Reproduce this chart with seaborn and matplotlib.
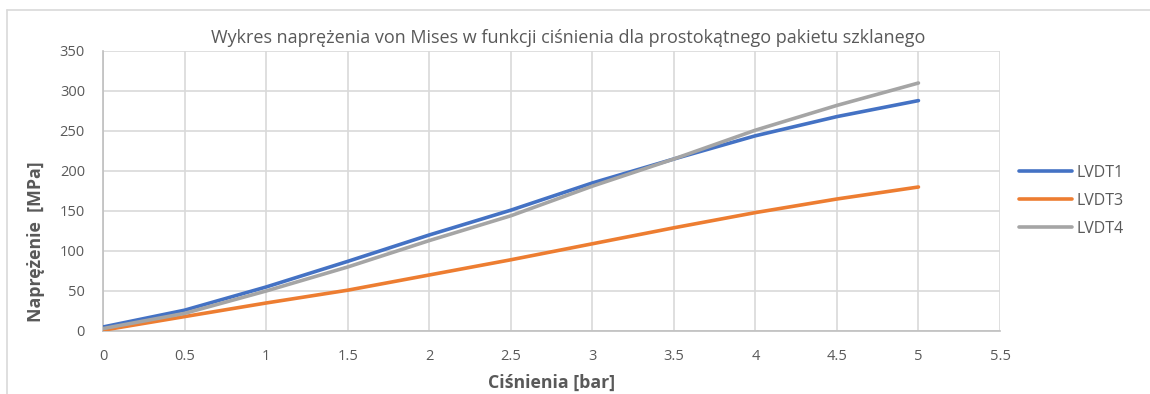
import matplotlib.pyplot as plt
import pandas as pd
import seaborn as sns
from matplotlib.lines import Line2D

# Data
pressure = [0, 0.5, 1, 1.5, 2, 2.5, 3, 3.5, 4, 4.5, 5]
lvdt1 = [5, 26, 55, 87, 120, 151, 185, 215, 244, 268, 288]
lvdt3 = [1, 18, 35, 51, 70, 89, 109, 129, 148, 165, 180]
lvdt4 = [3, 22, 50, 80, 113, 144, 181, 215, 251, 282, 310]
series_names = ["LVDT1", "LVDT3", "LVDT4"]
colors = ["#4472C4", "#ED7D31", "#A5A5A5"]

df = pd.DataFrame({"pressure": pressure * 3,
                   "stress": lvdt1 + lvdt3 + lvdt4,
                   "series": [n for n in series_names for _ in pressure]})

sns.set_style("white")
plt.rcParams['font.family'] = ['Open Sans', 'DejaVu Sans']
text_color = "#595959"

fig = plt.figure(figsize=(11.5, 3.94), dpi=100)
ax = fig.add_axes([103 / 1150, 1 - 331 / 394, 897 / 1150, 280 / 394])

sns.lineplot(data=df, x="pressure", y="stress", hue="series",
             palette=colors, linewidth=2.6, ax=ax, legend=False, zorder=3)

ax.set_xlim(0, 5.5)
ax.set_ylim(0, 350)
ax.set_xticks([i * 0.5 for i in range(12)])
ax.set_xticklabels(["0", "0.5", "1", "1.5", "2", "2.5", "3", "3.5", "4", "4.5", "5", "5.5"])
ax.set_yticks(range(0, 351, 50))
ax.grid(True, color="#d9d9d9", linewidth=1.2)
ax.tick_params(axis="both", length=0, labelsize=10.5, labelcolor=text_color, pad=13)
for side in ["top", "right"]:
    ax.spines[side].set_visible(False)
for side in ["left", "bottom"]:
    ax.spines[side].set_color("#bfbfbf")
    ax.spines[side].set_linewidth(1.2)

ax.set_xlabel("Ciśnienia [bar]", fontsize=12.8, fontweight="bold", color=text_color, labelpad=7)
ax.set_ylabel("Naprężenie  [MPa]", fontsize=12.8, fontweight="bold", color=text_color)
# Excel places the axis title a bit below the middle
ax.yaxis.set_label_coords((45 - 103) / 897, (331 - 242) / 280)

fig.text(568 / 1150, 1 - 38 / 394, "Wykres naprężenia von Mises w funkcji ciśnienia dla prostokątnego pakietu szklanego",
         ha="center", va="center", fontsize=13, color=text_color)

handles = [Line2D([0], [0], color=c, linewidth=2.6) for c in colors]
fig.legend(handles, series_names, loc="center left", bbox_to_anchor=(1005 / 1150, 1 - 201 / 394),
           frameon=False, fontsize=11.5, labelcolor=text_color, handlelength=3.3,
           handletextpad=0.3, labelspacing=0.75)

# chart area border
fig.add_artist(Line2D([7 / 1150, 1], [1 - 10 / 394, 1 - 10 / 394], color="#d9d9d9", linewidth=1.2))
fig.add_artist(Line2D([7 / 1150, 7 / 1150], [0, 1 - 10 / 394], color="#d9d9d9", linewidth=1.2))

fig.savefig("out.png", dpi=100)
